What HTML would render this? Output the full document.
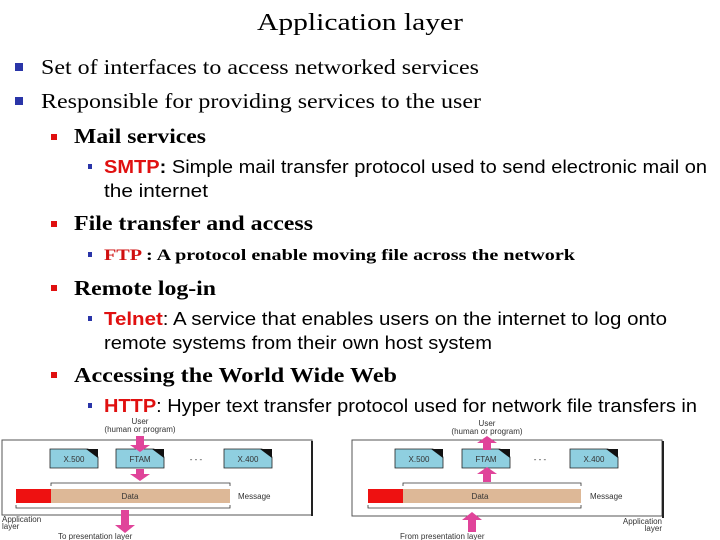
<!DOCTYPE html>
<html><head><meta charset="utf-8"><style>html,body{margin:0;padding:0;background:#fff}svg{display:block}</style></head>
<body>
<svg width="720" height="540" viewBox="0 0 720 540" xmlns="http://www.w3.org/2000/svg">
<defs>
<g id="doc"><polygon points="0,0 38,0 48,8 48,19 0,19" fill="#8fcfe0" stroke="#222" stroke-width="0.8"/><polygon points="36,0 48,0 48,9" fill="#111"/></g>
</defs>
<g font-family="Liberation Serif, serif">
<text x="257" y="30" font-size="24" textLength="206" lengthAdjust="spacingAndGlyphs">Application layer</text>
<rect x="15" y="63" width="8" height="8" fill="#2a35a8"/>
<rect x="15" y="97" width="8" height="8" fill="#2a35a8"/>
<text x="41" y="74" font-size="21" textLength="438" lengthAdjust="spacingAndGlyphs">Set of interfaces to access networked services</text>
<text x="41" y="108" font-size="21" textLength="440" lengthAdjust="spacingAndGlyphs">Responsible for providing services to the user</text>
<g font-weight="bold" font-size="21">
<rect x="51" y="134" width="6" height="6" fill="#e01010"/>
<text x="74" y="143" textLength="132" lengthAdjust="spacingAndGlyphs">Mail services</text>
<rect x="51" y="221" width="6" height="6" fill="#e01010"/>
<text x="74" y="230" textLength="239" lengthAdjust="spacingAndGlyphs">File transfer and access</text>
<rect x="51" y="285" width="6" height="6" fill="#e01010"/>
<text x="74" y="295" textLength="142" lengthAdjust="spacingAndGlyphs">Remote log-in</text>
<rect x="51" y="372" width="6" height="6" fill="#e01010"/>
<text x="74" y="382" textLength="323" lengthAdjust="spacingAndGlyphs">Accessing the World Wide Web</text>
</g>
<rect x="88" y="252" width="4" height="5" fill="#2a35a8"/>
<text x="104" y="260" font-size="16" font-weight="bold" textLength="471" lengthAdjust="spacingAndGlyphs"><tspan fill="#d01010">FTP</tspan> : A protocol enable moving file across the network</text>
</g>
<g font-family="Liberation Sans, sans-serif" font-size="18">
<rect x="88" y="164" width="4" height="5" fill="#2a35a8"/>
<text x="104" y="173" textLength="603" lengthAdjust="spacingAndGlyphs"><tspan fill="#e01010" font-weight="bold">SMTP</tspan><tspan font-weight="bold">:</tspan> Simple mail transfer protocol used to send electronic mail on</text>
<text x="104" y="197" textLength="104" lengthAdjust="spacingAndGlyphs">the internet</text>
<rect x="88" y="316" width="4" height="5" fill="#2a35a8"/>
<text x="104" y="325" textLength="563" lengthAdjust="spacingAndGlyphs"><tspan fill="#e01010" font-weight="bold">Telnet</tspan>: A service that enables users on the internet to log onto</text>
<text x="104" y="349" textLength="388" lengthAdjust="spacingAndGlyphs">remote systems from their own host system</text>
<rect x="88" y="403" width="4" height="5" fill="#2a35a8"/>
<text x="104" y="412" textLength="593" lengthAdjust="spacingAndGlyphs"><tspan fill="#e01010" font-weight="bold">HTTP</tspan>: Hyper text transfer protocol used for network file transfers in</text>
</g>
<!-- Left diagram -->
<g font-family="Liberation Sans, sans-serif" font-size="8" fill="#333">
<text x="140" y="424" text-anchor="middle">User</text>
<text x="140" y="432" text-anchor="middle">(human or program)</text>
<rect x="2" y="440" width="310" height="75" fill="#fff" stroke="#555" stroke-width="1"/>
<line x1="312" y1="441" x2="312" y2="516" stroke="#222" stroke-width="2"/>
<use href="#doc" x="50" y="449"/><use href="#doc" x="116" y="449"/><use href="#doc" x="224" y="449"/>
<text x="74" y="462" text-anchor="middle">X.500</text><text x="140" y="462" text-anchor="middle">FTAM</text><text x="248" y="462" text-anchor="middle">X.400</text>
<text x="196" y="462" text-anchor="middle">- - -</text>
<polyline points="51,486 51,483 230,483 230,486" fill="none" stroke="#333" stroke-width="0.8"/>
<rect x="16" y="489" width="214" height="14" fill="#ddb897"/>
<rect x="16" y="489" width="35" height="14" fill="#ee1111"/>
<text x="130" y="499" text-anchor="middle">Data</text>
<text x="238" y="499">Message</text>
<polyline points="16,505 16,508 230,508 230,505" fill="none" stroke="#333" stroke-width="0.8"/>
<text x="2" y="522">Application</text><text x="2" y="529">layer</text>
<text x="58" y="539">To presentation layer</text>
<g fill="#e0449a"><polygon points="136,436 144,436 144,445 150,445 140,452 130,445 136,445"/>
<polygon points="136,469 144,469 144,474 150,474 140,481 130,474 136,474"/>
<polygon points="121,510 129,510 129,525 135,525 125,533 115,525 121,525"/></g>
</g>
<!-- Right diagram -->
<g font-family="Liberation Sans, sans-serif" font-size="8" fill="#333">
<text x="487" y="426" text-anchor="middle">User</text>
<text x="487" y="434" text-anchor="middle">(human or program)</text>
<rect x="352" y="440" width="310" height="76" fill="#fff" stroke="#555" stroke-width="1"/>
<line x1="663" y1="441" x2="663" y2="518" stroke="#222" stroke-width="2"/>
<use href="#doc" x="395" y="449"/><use href="#doc" x="462" y="449"/><use href="#doc" x="570" y="449"/>
<text x="419" y="462" text-anchor="middle">X.500</text><text x="486" y="462" text-anchor="middle">FTAM</text><text x="594" y="462" text-anchor="middle">X.400</text>
<text x="540" y="462" text-anchor="middle">- - -</text>
<polyline points="403,486 403,483 581,483 581,486" fill="none" stroke="#333" stroke-width="0.8"/>
<rect x="368" y="489" width="213" height="14" fill="#ddb897"/>
<rect x="368" y="489" width="35" height="14" fill="#ee1111"/>
<text x="480" y="499" text-anchor="middle">Data</text>
<text x="590" y="499">Message</text>
<polyline points="368,505 368,508 581,508 581,505" fill="none" stroke="#333" stroke-width="0.8"/>
<text x="662" y="524" text-anchor="end">Application</text><text x="662" y="531" text-anchor="end">layer</text>
<text x="400" y="539">From presentation layer</text>
<g fill="#e0449a"><polygon points="483,450 491,450 491,443 497,443 487,436 477,443 483,443"/>
<polygon points="483,482 491,482 491,474 497,474 487,467 477,474 483,474"/>
<polygon points="468,532 476,532 476,520 482,520 472,512 462,520 468,520"/></g>
</g>
</svg>
</body></html>
